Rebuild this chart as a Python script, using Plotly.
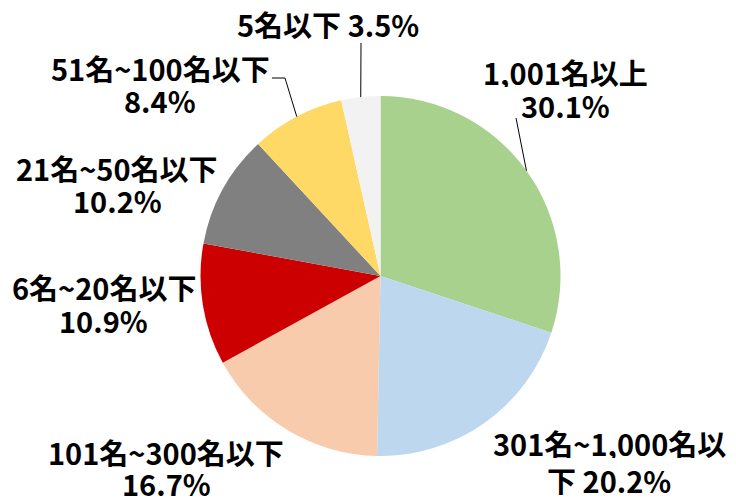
import math
import plotly.graph_objects as go

labels = ["1,001名以上", "301名~1,000名以下", "101名~300名以下", "6名~20名以下",
          "21名~50名以下", "51名~100名以下", "5名以下"]
values = [30.1, 20.2, 16.7, 10.9, 10.2, 8.4, 3.5]
colors = ["#A9D18E", "#BDD7EE", "#F8CBAD", "#CC0000", "#808080", "#FFD966", "#F2F2F2"]
label_lines = [["1,001名以上", "30.1%"], ["301名~1,000名以", "下 20.2%"], ["101名~300名以下", "16.7%"],
               ["6名~20名以下", "10.9%"], ["21名~50名以下", "10.2%"], ["51名~100名以下", "8.4%"],
               ["5名以下 3.5%"]]

W, H = 736, 500
CX, CY, R = 380.5, 276, 180

def px(x):
    return x / W

def py(y):
    return 1 - y / H

# label line centres (layout, pixels)
label_x = [565, 609, 166, 104, 117, 160, 328]
label_y = [[72, 105], [443, 480], [452, 483], [287, 320], [168, 200], [68, 100], [24]]
# leader line elbows / ends (layout, pixels) - None means no leader line
leader_end = [[(516, 118)], None, None, None, None, [(285, 78), (272, 78)], [(361, 43)]]

fig = go.Figure(go.Pie(
    labels=labels, values=values, sort=False, direction="clockwise", rotation=0,
    marker=dict(colors=colors, line=dict(width=0)),
    textinfo="none", hoverinfo="label+percent", showlegend=False,
    domain=dict(x=[px(CX - R), px(CX + R)], y=[py(CY + R), py(CY - R)]),
))

total = sum(values)
cum = 0
for i, v in enumerate(values):
    mid = (cum + v / 2) / total
    cum += v
    ang = 2 * math.pi * mid
    sx = CX + R * math.sin(ang)
    sy = CY - R * math.cos(ang)
    if leader_end[i]:
        pts = [(sx, sy)] + leader_end[i]
        path = "M " + " L ".join(f"{px(x)},{py(y)}" for x, y in pts)
        fig.add_shape(type="path", path=path, xref="paper", yref="paper",
                      line=dict(color="#000000", width=1))
    for line, ly in zip(label_lines[i], label_y[i]):
        fig.add_annotation(x=px(label_x[i]), y=py(ly), xref="paper", yref="paper",
                           text=line, showarrow=False, xanchor="center", yanchor="middle",
                           align="center", valign="middle", height=30, borderpad=0,
                           font=dict(family="Noto Sans CJK JP", size=29, color="#000000", weight="bold"))

fig.update_layout(width=W, height=H, margin=dict(l=0, r=0, t=0, b=0),
                  paper_bgcolor="white", plot_bgcolor="white")
fig.write_html("out.html", config={"displayModeBar": False},
               post_script="document.body.style.margin='0';")
